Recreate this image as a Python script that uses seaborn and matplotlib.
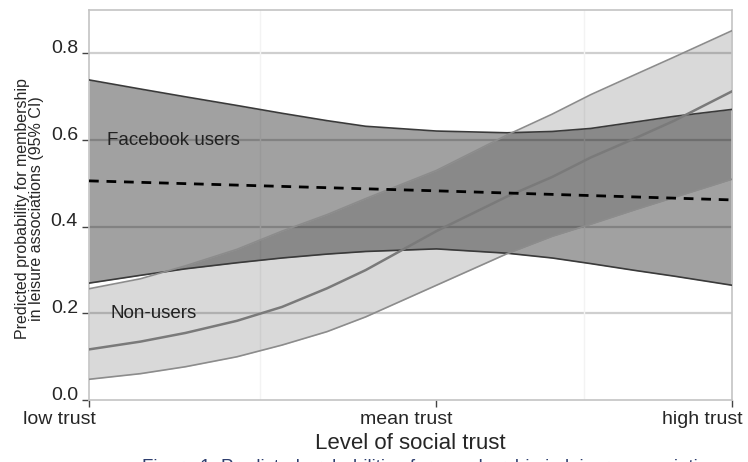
"""Predicted probability of leisure association membership by social trust."""

import numpy as np
import pandas as pd
import matplotlib
matplotlib.use("Agg")
import matplotlib.pyplot as plt
from matplotlib.transforms import ScaledTranslation
import seaborn as sns

# trust scale: 0 = low, 1 = high (mean trust sits a bit right of centre)
trust = [0.0, 0.08, 0.15, 0.23, 0.30, 0.37, 0.43, 0.54, 0.65, 0.72, 0.78, 0.85, 0.91, 1.0]
MEAN_TRUST = 0.54

fb_upper = [0.739, 0.718, 0.700, 0.680, 0.662, 0.645, 0.632, 0.621, 0.617, 0.620, 0.627, 0.642, 0.655, 0.671]
fb_lower = [0.270, 0.288, 0.303, 0.317, 0.328, 0.337, 0.343, 0.349, 0.339, 0.328, 0.315, 0.299, 0.286, 0.265]

nu_mean = [0.117, 0.135, 0.155, 0.183, 0.215, 0.258, 0.300, 0.390, 0.470, 0.515, 0.560, 0.605, 0.645, 0.713]
nu_upper = [0.257, 0.280, 0.310, 0.348, 0.390, 0.428, 0.465, 0.530, 0.612, 0.660, 0.705, 0.752, 0.792, 0.853]
nu_lower = [0.048, 0.061, 0.077, 0.100, 0.127, 0.158, 0.192, 0.265, 0.338, 0.378, 0.406, 0.440, 0.468, 0.510]

# Facebook users' predicted line is practically straight
fb_trust = [0.0, 0.54, 1.0]
fb_mean = [0.506, 0.483, 0.462]

x_ticks = [0.0, MEAN_TRUST, 1.0]
x_ticklabels = ["low trust", "mean trust", "high trust"]
y_ticks = [0.0, 0.2, 0.4, 0.6, 0.8]

nu_df = pd.DataFrame({"trust": trust, "prob": nu_mean})
fb_df = pd.DataFrame({"trust": fb_trust, "prob": fb_mean})

sns.set_style("white")
plt.rcParams["font.family"] = ["Liberation Sans", "DejaVu Sans"]

fig = plt.figure(figsize=(7.48, 4.62), dpi=100)
ax = fig.add_axes([0.119, 0.134, 0.860, 0.844])

# grid first so the translucent bands let it show through
for yv in [0.2, 0.4, 0.6, 0.8]:
    ax.axhline(yv, color="#cfcfcf", lw=1.6, zorder=0)
for xv in [0.266, 0.77]:
    ax.axvline(xv, color="#f3f3f3", lw=1.0, zorder=0)

# Facebook users band (dark)
ax.fill_between(trust, fb_lower, fb_upper, color="black", alpha=0.37, lw=0, zorder=1)
ax.plot(trust, fb_upper, color="#3a3a3a", lw=1.2, zorder=3)
ax.plot(trust, fb_lower, color="#3a3a3a", lw=1.2, zorder=3)

# Non-users band (light)
ax.fill_between(trust, nu_lower, nu_upper, color="black", alpha=0.15, lw=0, zorder=2)
ax.plot(trust, nu_upper, color="#8c8c8c", lw=1.2, zorder=3)
ax.plot(trust, nu_lower, color="#8c8c8c", lw=1.2, zorder=3)

sns.lineplot(data=nu_df, x="trust", y="prob", color="#7a7a7a", lw=1.8, ax=ax, zorder=4)
sns.lineplot(data=fb_df, x="trust", y="prob", color="black", lw=2.0, ax=ax, zorder=5)
ax.lines[-1].set_dashes((3.5, 2.8))

ax.text(0.028, 0.60, "Facebook users", fontsize=13.5, va="center", ha="left", color="#222222", zorder=6)
ax.text(0.033, 0.20, "Non-users", fontsize=13.5, va="center", ha="left", color="#222222", zorder=6)

ax.set_xlim(0, 1)
ax.set_ylim(0, 0.9)
ax.set_xticks(x_ticks)
ax.set_xticklabels(x_ticklabels, fontsize=14)
ax.set_yticks(y_ticks)
ax.set_yticklabels([f"{v:.1f}" for v in y_ticks], fontsize=14)
ax.tick_params(axis="both", direction="out", length=5, width=1, color="#444444",
               pad=3, bottom=True, left=True)

# labels in the original sit off their ticks: x labels left, y labels up
for lab in ax.get_xticklabels():
    lab.set_transform(lab.get_transform() + ScaledTranslation(-0.30, 0, fig.dpi_scale_trans))
for lab in ax.get_yticklabels():
    lab.set_transform(lab.get_transform() + ScaledTranslation(0, 0.07, fig.dpi_scale_trans))

for s in ax.spines.values():
    s.set_color("#c4c4c4")
    s.set_linewidth(1.2)

ax.set_xlabel("Level of social trust", fontsize=16)
ax.xaxis.set_label_coords(0.5, -0.085)
ax.set_ylabel("Predicted probability for membership\nin leisure associations (95% CI)",
              fontsize=11.5, linespacing=0.92)
ax.yaxis.set_label_coords(-0.07, 0.49)

# caption, cut off at the bottom edge of the image
fig.text(0.19, 0.006, "Figure 1. Predicted probabilities for membership in leisure associations",
         fontsize=13.5, ha="left", va="top", color="#2e3e6e")

fig.savefig("out.png", dpi=100)
plt.close(fig)
